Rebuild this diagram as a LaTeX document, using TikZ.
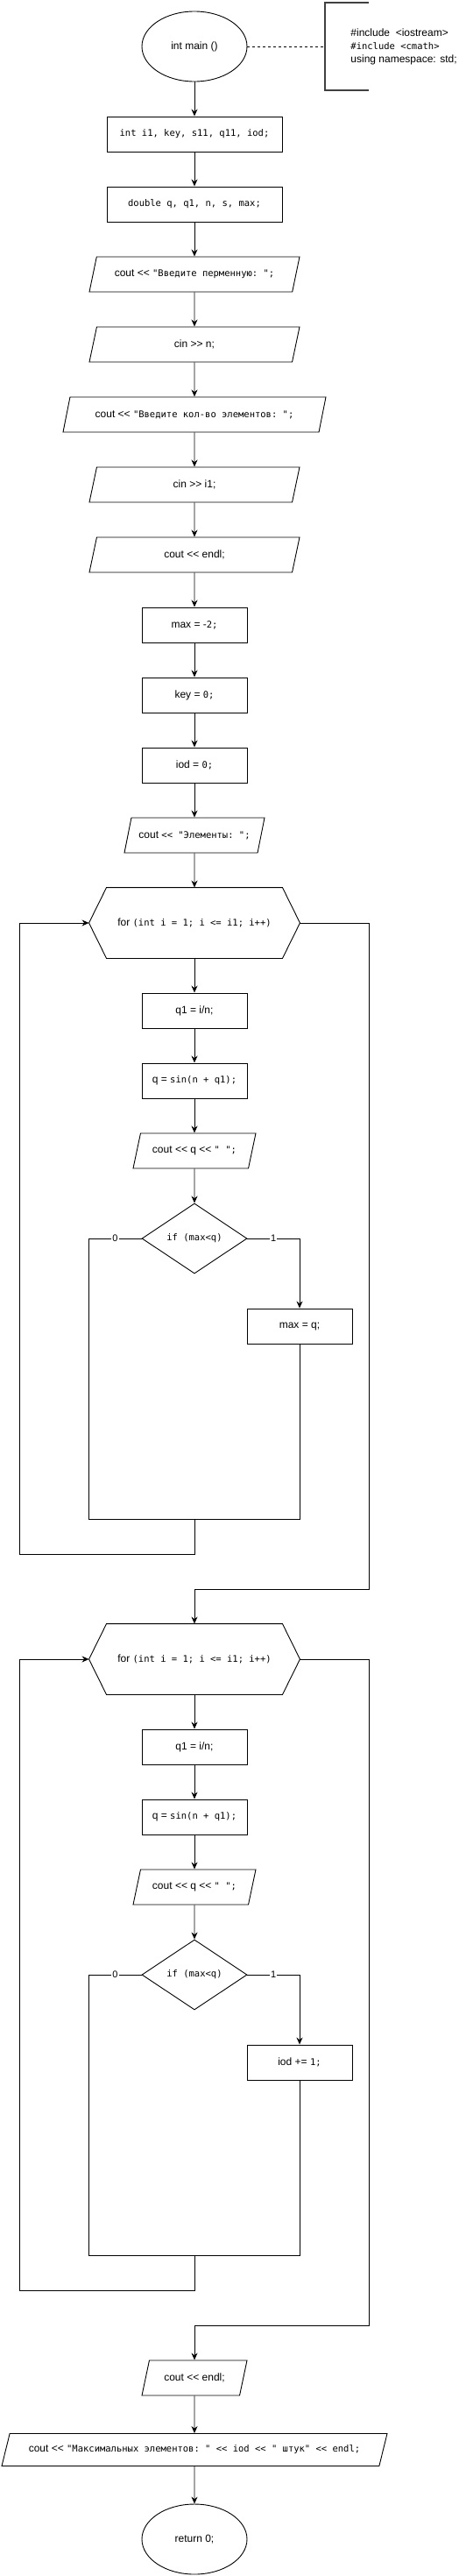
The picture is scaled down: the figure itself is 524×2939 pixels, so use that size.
\documentclass[tikz,border=0pt]{standalone}
\usepackage{fontspec}
\setmainfont{Liberation Sans}
\setmonofont[Scale=0.875]{DejaVu Sans Mono}
\usepackage{tikz}
\usetikzlibrary{shapes.geometric, arrows.meta, calc}
\newcommand{\shl}{<\kern0pt<}
\newcommand{\shr}{>\kern0pt>}

\begin{document}
\begin{tikzpicture}[
    x=1pt, y=-1pt,
    font=\fontsize{12}{14}\selectfont,
    line width=0.9pt,
    terminal/.style={ellipse, draw, minimum width=120pt, minimum height=80pt},
    proc/.style={rectangle, draw, minimum width=120pt, minimum height=40pt},
    wideproc/.style={proc, minimum width=200pt},
    iobox/.style={trapezium, trapezium left angle=63.4, trapezium right angle=116.6, trapezium stretches body=true, draw, minimum height=40pt, inner xsep=0pt},
    decision/.style={diamond, draw, aspect=1.5, minimum width=120pt, minimum height=80pt, inner sep=0pt},
    loophead/.style={rectangle, minimum width=240pt, minimum height=80pt},
    arrow/.style={-{Stealth[length=8pt, width=7pt]}},
    lbl/.style={fill=white, inner sep=1pt, font=\fontsize{11}{13}\selectfont}
]
\useasboundingbox (0,0) rectangle (524,2939);

\node[terminal] (main) at (222,53) {int main ()};
\node[align=left, anchor=west, inner sep=0pt, font=\fontsize{12}{15}\selectfont] (note) at (400,53) {\#include \ <iostream>\\\texttt{\#include <cmath>}\\using namespace: std;};
\draw[line width=1.6pt, black!75] (421,3) -- (371,3) -- (371,103) -- (421,103);
\coordinate (nb) at (371,53);
\draw[dash pattern=on 3pt off 3pt] (main.east) -- (nb);

\node[wideproc] (v1) at (222,153) {\texttt{int i1, key, s11, q11, iod;}};
\node[wideproc] (v2) at (222,233) {\texttt{double q, q1, n, s, max;}};
\node[iobox, minimum width=240pt] (out1) at (222,313) {cout \shl{} \texttt{"Введите перменную: ";}};
\node[iobox, minimum width=240pt] (in1) at (222,393) {cin \shr{} n;};
\node[iobox, minimum width=300pt] (out2) at (222,473) {cout \shl{} \texttt{"Введите кол-во элементов: ";}};
\node[iobox, minimum width=240pt] (in2) at (222,553) {cin \shr{} i1;};
\node[iobox, minimum width=240pt] (out3) at (222,633) {cout \shl{} endl;};
\node[proc] (a1) at (222,713) {max = -\texttt{2;}};
\node[proc] (a2) at (222,793) {key = \texttt{0;}};
\node[proc] (a3) at (222,873) {iod = \texttt{0;}};
\node[iobox, minimum width=160pt] (out4) at (222,953) {\makebox[110pt]{cout \texttt{<< "Элементы: ";}}};

\node[loophead] (for1) at (222,1053) {for \texttt{(int i = 1; i <= i1; i++)}};
\node[proc] (q1a) at (222,1153) {q1 = i/n;};
\node[proc] (qa) at (222,1233) {q = \texttt{sin(n + q1);}};
\node[iobox, minimum width=140pt] (pa) at (222,1313) {cout \shl{} q \shl{} \texttt{" ";}};
\node[decision] (ifa) at (222,1413) {\texttt{if (max<q)}};
\node[proc] (maxq) at (342,1513) {max = q;};
\coordinate (ja) at (222,1733);
\coordinate (la) at (22,1773);
\coordinate (xa) at (421,1813);

\node[loophead] (for2) at (222,1893) {for \texttt{(int i = 1; i <= i1; i++)}};
\node[proc] (q1b) at (222,1993) {q1 = i/n;};
\node[proc] (qb) at (222,2073) {q = \texttt{sin(n + q1);}};
\node[iobox, minimum width=140pt] (pb) at (222,2153) {cout \shl{} q \shl{} \texttt{" ";}};
\node[decision] (ifb) at (222,2253) {\texttt{if (max<q)}};
\node[proc] (iodp) at (342,2353) {iod += \texttt{1;}};
\coordinate (jb) at (222,2573);
\coordinate (lb) at (22,2613);
\coordinate (xb) at (421,2653);

\node[iobox, minimum width=120pt] (out5) at (222,2713) {cout \shl{} endl;};
\node[iobox, minimum width=440pt, minimum height=37pt, trapezium left angle=61.6, trapezium right angle=118.4] (out6) at (222,2795) {cout \shl{} \texttt{"Максимальных элементов: " << iod << " штук" << endl;}};
\node[terminal] (ret) at (222,2897) {return 0;};

\foreach \f in {for1,for2}
    \draw (\f.west) -- ([xshift=20pt]\f.north west) -- ([xshift=-20pt]\f.north east) -- (\f.east) -- ([xshift=-20pt]\f.south east) -- ([xshift=20pt]\f.south west) -- cycle;

\foreach \a/\b in {main/v1, v1/v2, v2/out1, out1/in1, in1/out2, out2/in2, in2/out3, out3/a1, a1/a2, a2/a3, a3/out4, out4/for1, for1/q1a, q1a/qa, qa/pa, pa/ifa, for2/q1b, q1b/qb, qb/pb, pb/ifb, out5/out6, out6/ret}
    \draw[arrow] (\a) -- (\b);

\draw[arrow] (ifa.east) -| node[lbl, pos=0.25] {1} (maxq.north);
\draw (ifa.west) -| node[lbl, pos=0.25] {0} (for1.west |- ja) -- (ja);
\draw (maxq.south) |- (ja);
\draw[arrow] (ja) |- (la) |- (for1.west);
\draw[arrow] (for1.east) -| (xa) -| (for2.north);

\draw[arrow] (ifb.east) -| node[lbl, pos=0.25] {1} (iodp.north);
\draw (ifb.west) -| node[lbl, pos=0.25] {0} (for2.west |- jb) -- (jb);
\draw (iodp.south) |- (jb);
\draw[arrow] (jb) |- (lb) |- (for2.west);
\draw[arrow] (for2.east) -| (xb) -| (out5.north);
\end{tikzpicture}
\end{document}
